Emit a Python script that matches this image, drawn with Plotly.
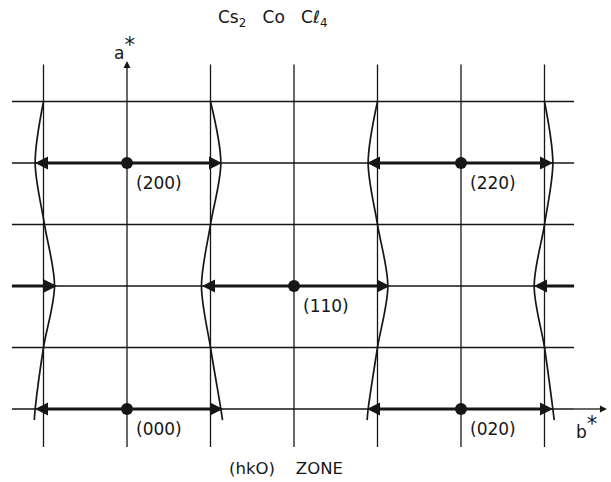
import plotly.graph_objects as go

# ---------------- data (reciprocal-lattice units: k along b*, h along a*) ----------------
k_cols = [-0.5, 0.0, 0.5, 1.0, 1.5, 2.0, 2.5]          # vertical grid lines
h_rows = [0.0, 0.5, 1.0, 1.5, 2.0, 2.5]                # horizontal grid lines
grid_k_span = [-0.689, 2.677]                          # extent of horizontal lines
grid_h_span = [-0.309, 2.80]                           # extent of vertical lines

# Bragg reflections
refl_k = [0.0, 2.0, 1.0, 0.0, 2.0]
refl_h = [2.0, 2.0, 1.0, 0.0, 0.0]
refl_labels = ["(200)", "(220)", "(110)", "(000)", "(020)"]

# outgoing arrows from each reflection: left / right tip (k)
arrow_left = [-0.551, 1.437, 0.449, -0.551, 1.437]
arrow_right = [0.569, 2.551, 1.575, 0.575, 2.551]

# incoming arrows on the h = 1 row: tail k, tip k
in_tail = [-0.689, 2.677]
in_tip = [-0.419, 2.437]
in_h = [1.0, 1.0]

# zone-boundary curves: h sample points and k offsets from their column
curve_h = [2.5, 2.0, 1.5, 1.0, 0.5, 0.0, -0.09]
curve_cols = [-0.5, 0.5, 1.5, 2.5]
curve_offsets = [
    [0.000, -0.050, 0.006, 0.066, 0.000, -0.050, -0.055],
    [0.000, 0.062, 0.000, -0.054, 0.000, 0.062, 0.072],
    [0.000, -0.056, 0.000, 0.062, 0.000, -0.056, -0.062],
    [0.000, 0.050, 0.000, -0.062, 0.000, 0.050, 0.058],
]

# axes
a_axis_k, a_axis_tip = 0.0, 2.83
b_axis_h, b_axis_tip = 0.0, 2.874

INK = "#161616"
FONT = "DejaVu Sans"
W, H = 611, 482
SHAFT_BACK = 0.04   # shaft stops short of the arrow tip (k units)

fig = go.Figure()
line_style = dict(color=INK, width=1.3)

# grid: horizontal lines
for h in h_rows:
    fig.add_trace(go.Scatter(x=grid_k_span, y=[h, h], mode="lines",
                             line=line_style, hoverinfo="skip"))
# grid: vertical lines
for k in k_cols:
    fig.add_trace(go.Scatter(x=[k, k], y=grid_h_span, mode="lines",
                             line=line_style, hoverinfo="skip"))
# axis extensions (a* up, b* right)
fig.add_trace(go.Scatter(x=[a_axis_k, a_axis_k], y=[grid_h_span[1], a_axis_tip - 0.02],
                         mode="lines", line=line_style, hoverinfo="skip"))
fig.add_trace(go.Scatter(x=[grid_k_span[1], b_axis_tip - 0.02], y=[b_axis_h, b_axis_h],
                         mode="lines", line=line_style, hoverinfo="skip"))
fig.add_trace(go.Scatter(x=[a_axis_k, b_axis_tip], y=[a_axis_tip, b_axis_h], mode="markers",
                         marker=dict(symbol=["arrow-up", "arrow-right"], size=7, color=INK,
                                     line=dict(width=0)),
                         hoverinfo="skip"))

# zone boundary curves
for col, offs in zip(curve_cols, curve_offsets):
    fig.add_trace(go.Scatter(x=[col + o for o in offs], y=curve_h, mode="lines",
                             line=dict(color=INK, width=1.7, shape="spline", smoothing=0.9),
                             hoverinfo="skip"))

# thick arrows: shafts and heads
shaft_x, shaft_y = [], []
tip_x, tip_y, tip_sym = [], [], []
for k0, h0, kl, kr in zip(refl_k, refl_h, arrow_left, arrow_right):
    shaft_x += [kl + SHAFT_BACK, kr - SHAFT_BACK, None]
    shaft_y += [h0, h0, None]
    tip_x += [kl, kr]
    tip_y += [h0, h0]
    tip_sym += ["arrow-left", "arrow-right"]
for t0, t1, h0 in zip(in_tail, in_tip, in_h):
    d = 1 if t1 > t0 else -1
    shaft_x += [t0, t1 - d * SHAFT_BACK, None]
    shaft_y += [h0, h0, None]
    tip_x.append(t1)
    tip_y.append(h0)
    tip_sym.append("arrow-right" if d > 0 else "arrow-left")

fig.add_trace(go.Scatter(x=shaft_x, y=shaft_y, mode="lines",
                         line=dict(color=INK, width=3.2), hoverinfo="skip"))
fig.add_trace(go.Scatter(x=tip_x, y=tip_y, mode="markers",
                         marker=dict(symbol=tip_sym, size=13, color=INK, line=dict(width=0)),
                         hoverinfo="skip"))

# reflection dots
fig.add_trace(go.Scatter(x=refl_k, y=refl_h, mode="markers",
                         marker=dict(color=INK, size=12, line=dict(width=0)),
                         hoverinfo="skip"))

anns = []
# reflection labels
for k0, h0, lab in zip(refl_k, refl_h, refl_labels):
    anns.append(dict(x=k0, y=h0, xref="x", yref="y", text=lab, showarrow=False,
                     xshift=32, yshift=-20, font=dict(family=FONT, size=17, color=INK)))

# texts placed in paper coordinates
def ptext(px, py, text, size):
    anns.append(dict(x=px / W, y=1 - py / H, xref="paper", yref="paper", text=text,
                     showarrow=False, xanchor="center", yanchor="middle",
                     font=dict(family=FONT, size=size, color=INK)))

NB = "\u00a0"
STAR = "<sup><span style='font-size:21px'>*</span></sup>"
ptext(272, 19, "Cs<sub>2</sub>" + NB * 3 + "Co" + NB * 3 + "Cℓ<sub>4</sub>", 17)
ptext(124, 48, "a" + STAR, 17)
ptext(586, 427, "b" + STAR, 17)
ptext(286, 468, "(hkO)" + NB * 4 + "ZONE", 16.5)

# pixel -> data mapping: x = 127 + 167 k,  y = 409 - 123 h
x_range = [(0 - 127) / 167, (W - 127) / 167]
y_range = [(409 - H) / 123, (409 - 0) / 123]

fig.update_layout(
    width=W, height=H, autosize=False,
    margin=dict(l=0, r=0, t=0, b=0, pad=0),
    paper_bgcolor="white", plot_bgcolor="white",
    showlegend=False,
    xaxis=dict(range=x_range, visible=False, fixedrange=True),
    yaxis=dict(range=y_range, visible=False, fixedrange=True),
    annotations=anns,
)

fig.write_html("out.html")
